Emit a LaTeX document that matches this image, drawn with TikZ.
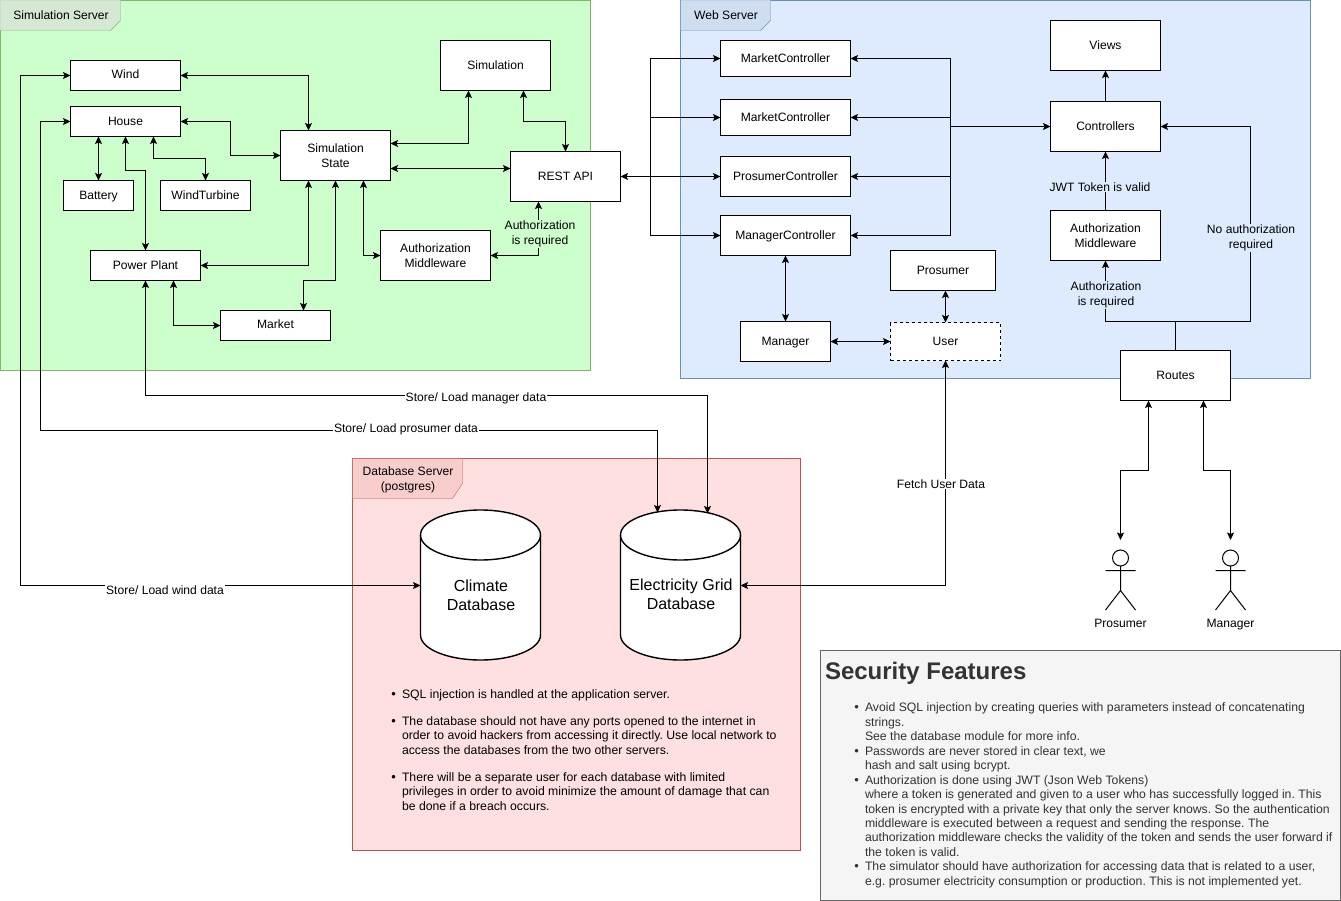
\documentclass[tikz,border=0pt]{standalone}
\usepackage{fontspec}
\setmainfont{Liberation Sans}
\usetikzlibrary{arrows.meta}
\definecolor{simfill}{HTML}{CCFFCC}
\definecolor{simline}{HTML}{82B366}
\definecolor{simtab}{HTML}{D5E8D4}
\definecolor{webfill}{HTML}{DEEBFF}
\definecolor{webline}{HTML}{6C8EBF}
\definecolor{webtab}{HTML}{CFDDF0}
\definecolor{dbfill}{HTML}{FFE0E0}
\definecolor{dbline}{HTML}{B85450}
\definecolor{dbtab}{HTML}{F8CECC}
\definecolor{notefill}{HTML}{F5F5F5}
\definecolor{noteline}{HTML}{666666}
\definecolor{notetext}{HTML}{333333}
\newcommand{\bul}{\leavevmode\llap{\fontsize{13}{13}\selectfont\textbullet\hspace{6pt}}}
\tikzset{
    every node/.style={font=\fontsize{12.1}{15}\selectfont},
    box/.style={draw=black,fill=white,line width=1pt,inner sep=0pt,outer sep=0pt,align=center,xshift=0.5pt,yshift=-0.5pt},
    oneline/.style={box,text depth=0pt},
    ghost/.style={inner sep=0pt,outer sep=0pt},
    link/.style={line width=1pt},
    tag/.style={inner sep=1pt,align=center},
    >={Stealth[length=7.5pt,width=7pt,inset=1.5pt]}
}
\begin{document}
\begin{tikzpicture}[x=1pt,y=-1pt]
    \useasboundingbox (0,0) rectangle (1341,901);

    % Server frames and their tabs
    \filldraw[fill=simfill,draw=simline] (0,0) rectangle (590.5,370.5);
    \filldraw[fill=simtab,draw=simline] (0,0) -- (120.5,0) -- (120.5,20.5) -- (110.5,30.5) -- (0,30.5) -- cycle;
    \node[ghost] (simtab) at (61,15.5) {Simulation Server};
    \filldraw[fill=webfill,draw=webline] (680.5,0) rectangle (1310.5,378.5);
    \filldraw[fill=webtab,draw=webline] (680.5,0) -- (770.5,0) -- (770.5,20.5) -- (760.5,30.5) -- (680.5,30.5) -- cycle;
    \node[ghost] (webtab) at (726,15.5) {Web Server};
    \filldraw[fill=dbfill,draw=dbline] (352.5,458.5) rectangle (800.5,850.5);
    \filldraw[fill=dbtab,draw=dbline] (352.5,458.5) -- (462.5,458.5) -- (462.5,483.5) -- (452.5,498.5) -- (352.5,498.5) -- cycle;
    \node[ghost,align=center] (dbtab) at (408,479.5) {Database Server\\(postgres)};

    % Simulation server boxes
    \node[oneline,text depth=3pt,minimum width=110pt,minimum height=30pt] (wind) at (125,75) {Wind};
    \node[oneline,minimum width=110pt,minimum height=30pt] (house) at (125,121) {House};
    \node[oneline,minimum width=70pt,minimum height=30pt] (battery) at (98,195) {Battery};
    \node[oneline,minimum width=90pt,minimum height=30pt] (turbine) at (205,195) {WindTurbine};
    \node[oneline,minimum width=110pt,minimum height=30pt] (plant) at (145,265) {Power Plant};
    \node[oneline,text depth=3pt,minimum width=110pt,minimum height=30pt] (market) at (275,325) {Market};
    \node[box,minimum width=110pt,minimum height=50pt] (simstate) at (335,155) {Simulation\\State};
    \node[oneline,minimum width=110pt,minimum height=50pt] (simulation) at (495,65) {Simulation};
    \node[oneline,minimum width=110pt,minimum height=50pt] (restapi) at (565,176) {REST API};
    \node[box,minimum width=110pt,minimum height=50pt] (authsim) at (435,255) {Authorization\\Middleware};

    % Web server boxes
    \node[oneline,minimum width=130pt,minimum height=36pt] (marketa) at (785,58) {MarketController};
    \node[oneline,minimum width=130pt,minimum height=36pt] (marketb) at (785,117) {MarketController};
    \node[oneline,minimum width=130pt,minimum height=40pt] (prosumerctrl) at (785,176) {ProsumerController};
    \node[oneline,minimum width=130pt,minimum height=40pt] (managerctrl) at (785,235) {ManagerController};
    \node[oneline,minimum width=110pt,minimum height=50pt] (views) at (1105,45) {Views};
    \node[oneline,minimum width=110pt,minimum height=50pt] (controllers) at (1105,126) {Controllers};
    \node[box,minimum width=110pt,minimum height=50pt] (authweb) at (1105,235) {Authorization\\Middleware};
    \node[oneline,minimum width=105pt,minimum height=40pt] (prosumer) at (942.5,270) {Prosumer};
    \node[oneline,minimum width=90pt,minimum height=40pt] (manager) at (785,341) {Manager};
    \node[oneline,dashed,minimum width=110pt,minimum height=38pt] (user) at (945,341) {User};
    \node[oneline,minimum width=110pt,minimum height=50pt] (routes) at (1175,375) {Routes};

    % Databases, the outline is drawn by hand
    \foreach \cx in {480.5,680.5} {
        \filldraw[fill=white,line width=1.4pt] (\cx-60,535) .. controls (\cx-60,521.2) and (\cx-33.1,510) .. (\cx,510)
            .. controls (\cx+33.1,510) and (\cx+60,521.2) .. (\cx+60,535) -- (\cx+60,635)
            .. controls (\cx+60,648.8) and (\cx+33.1,660) .. (\cx,660)
            .. controls (\cx-33.1,660) and (\cx-60,648.8) .. (\cx-60,635) -- cycle;
        \draw[line width=1.4pt] (\cx-60,535) .. controls (\cx-60,548.8) and (\cx-33.1,560) .. (\cx,560)
            .. controls (\cx+33.1,560) and (\cx+60,548.8) .. (\cx+60,535);
    }
    \node[ghost,minimum width=120pt,minimum height=150pt] (climate) at (480.5,585.5) {};
    \node[ghost,minimum width=120pt,minimum height=150pt] (grid) at (680.5,585.5) {};
    \node[ghost,align=center,font=\fontsize{16}{19}\selectfont] (climatetext) at (481,595) {Climate\\Database};
    \node[ghost,align=center,font=\fontsize{16}{19}\selectfont] (gridtext) at (681,594) {Electricity Grid\\Database};

    % Stick figures
    \foreach \nm/\cx/\txt in {prosumerfig/1120.5/Prosumer,managerfig/1230.5/Manager} {
        \node[ghost,minimum width=30pt,minimum height=70pt] (\nm) at (\cx,575) {};
        \draw[link] (\cx,558) circle [radius=8pt];
        \draw[link] (\cx,566) -- (\cx,590.5) (\cx-15,570.5) -- (\cx+15,570.5)
            (\cx-15,610) -- (\cx,590.5) -- (\cx+15,610);
        \node[ghost,text depth=0pt] (\nm text) at (\cx,623) {\txt};
    }

    % Connectors inside the simulation server
    \draw[link,<->] (wind.east) -| ([xshift=-27pt]simstate.north);
    \draw[link,<->] (house.east) -- (230.5,121.5) |- (simstate.west);
    \draw[link,<->] (house.south -| battery.north) -- (battery.north);
    \draw[link,<->] (house.south) -- (125.5,170.5) -| (plant.north);
    \draw[link,<->] ([xshift=28pt]house.south) -- ++(0,-22pt) -| (turbine.north);
    \draw[link,<->] ([yshift=12pt]simstate.east) -| ([xshift=-27pt]simulation.south);
    \draw[link,<->] ([yshift=-13pt]simstate.east) -- ([yshift=8pt]restapi.west);
    \draw[link,<->] ([xshift=28pt]simulation.south) -- ++(0,-31pt) -| (restapi.north);
    \draw[link,<->] ([xshift=-27pt]simstate.south) |- (plant.east);
    \draw[link,<->] (simstate.south) -- (335.5,280.5) -| ([xshift=28pt]market.north);
    \draw[link,<->] ([xshift=28pt]simstate.south) |- (authsim.west);
    \draw[link,<->] (authsim.east) -| ([xshift=-27pt]restapi.south);
    \draw[link,<->] ([xshift=28pt]plant.south) |- (market.west);

    % Connectors inside the web server
    \coordinate (leftbus) at (650.5,176.5);
    \coordinate (rightbus) at (950.5,126.5);
    \coordinate (routejoin) at (1175.5,321.5);
    \draw[link,<->] (restapi.east) -- (prosumerctrl.west);
    \foreach \ctrl in {marketa,marketb,managerctrl} {
        \draw[link,->] (leftbus) |- (\ctrl.west);
    }
    \foreach \ctrl in {marketa,marketb,prosumerctrl,managerctrl} {
        \draw[link,->] (rightbus) |- (\ctrl.east);
    }
    \draw[link,->] (rightbus) -- (controllers.west);
    \draw[link,->] (controllers.north) -- (views.south);
    \draw[link,->] (authweb.north) -- (controllers.south);
    \draw[link] (routes.north) -- (routejoin);
    \draw[link,->] (routejoin) -| (authweb.south);
    \draw[link,->] (routejoin) -- (1250.5,321.5) |- (controllers.east);
    \draw[link,<->] (managerctrl.south) -- (manager.north);
    \draw[link,<->] (prosumer.south -| user.north) -- (user.north);
    \draw[link,<->] (manager.east) -- (user.west);

    % Connectors between the servers
    \draw[link,<->] (wind.west) -- (20.5,75.5) |- (climate.west);
    \draw[link,<->] (house.west) -- (40.5,121.5) |- (657.5,430.5) -- ([xshift=-23pt,yshift=-2pt]grid.north);
    \draw[link,<->] (plant.south) |- (707.5,395.5) -- ([xshift=27pt,yshift=-3pt]grid.north);
    \draw[link,<->] (grid.east) -| (user.south);
    \draw[link,<->] ([xshift=-27pt]routes.south) |- (1120.5,470.5) -- (prosumerfig.north);
    \draw[link,<->] ([xshift=28pt]routes.south) |- (1230.5,470.5) -- (managerfig.north);

    % Labels sit on top of their lines
    \node[tag,fill=simfill] (authsimlabel) at (540,234) {Authorization\\is required};
    \node[tag,fill=webfill] (jwtlabel) at (1100,187) {JWT Token is valid};
    \node[tag,fill=webfill] (authweblabel) at (1106,295) {Authorization\\is required};
    \node[tag,fill=webfill] (noauthlabel) at (1251,238) {No authorization\\required};
    \node[tag,fill=white] (windlabel) at (165,590) {Store/ Load wind data};
    \node[tag,fill=white] (prosumerlabel) at (406,429) {Store/ Load prosumer data};
    \node[tag,fill=white] (managerlabel) at (476,398) {Store/ Load manager data};
    \node[tag,fill=white] (fetchlabel) at (941,484) {Fetch User Data};

    % Notes under the databases
    \node[ghost,anchor=north west,align=left,font=\frenchspacing\fontsize{12.24}{14.5}\selectfont] (dbnotes) at (402,689.5) {%
        \bul SQL injection is handled at the application server.\\[12.5pt]
        \bul The database should not have any ports opened to the internet in\\
        order to avoid hackers from accessing it directly. Use local network to\\
        access the databases from the two other servers.\\[12.5pt]
        \bul There will be a separate user for each database with limited\\
        privileges in order to avoid minimize the amount of damage that can\\
        be done if a breach occurs.};

    % Security box
    \filldraw[fill=notefill,draw=noteline] (820.5,650.5) rectangle (1340.5,900.5);
    \node[ghost,anchor=base west,text=notetext,font=\bfseries\fontsize{24}{28}\selectfont] (sectitle) at (825,679) {Security Features};
    \node[ghost,anchor=north west,align=left,text=notetext,font=\frenchspacing\fontsize{12.24}{14.45}\selectfont] (secnotes) at (865,703) {%
        \bul Avoid SQL injection by creating queries with parameters instead of concatenating\\
        strings.\\
        See the database module for more info.\\
        \bul Passwords are never stored in clear text, we\\
        hash and salt using bcrypt.\\
        \bul Authorization is done using JWT (Json Web Tokens)\\
        where a token is generated and given to a user who has successfully logged in. This\\
        token is encrypted with a private key that only the server knows. So the authentication\\
        middleware is executed between a request and sending the response. The\\
        authorization middleware checks the validity of the token and sends the user forward if\\
        the token is valid.\\
        \bul The simulator should have authorization for accessing data that is related to a user,\\
        e.g. prosumer electricity consumption or production. This is not implemented yet.};
\end{tikzpicture}
\end{document}
